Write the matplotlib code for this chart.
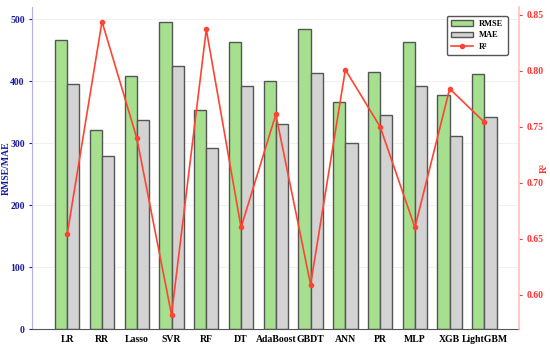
import numpy as np
import matplotlib
matplotlib.use('Agg')
from matplotlib import pyplot as plt

models = ['LR', 'RR', 'Lasso', 'SVR', 'RF', 'DT', 'AdaBoost', 'GBDT', 'ANN', 'PR', 'MLP', 'XGB', 'LightGBM']
rmse = [467, 321, 408, 495, 354, 464, 401, 484, 366, 415, 464, 378, 412]
mae = [395, 280, 338, 424, 292, 393, 332, 413, 301, 345, 393, 312, 342]
r2 = [0.654, 0.844, 0.740, 0.582, 0.837, 0.660, 0.761, 0.609, 0.801, 0.750, 0.660, 0.784, 0.754]

plt.rcParams['font.family'] = ['Liberation Serif', 'DejaVu Serif']
plt.rcParams['font.weight'] = 'bold'

fig, ax = plt.subplots(figsize=(5.5, 3.46), dpi=100)
fig.subplots_adjust(left=0.059, right=0.944, top=0.98, bottom=0.048)

x = np.arange(len(models))
w = 0.35
b1 = ax.bar(x - w/2, rmse, w, color='#a6e08f', edgecolor='#555555', linewidth=1.0, label='RMSE')
b2 = ax.bar(x + w/2, mae, w, color='#d3d3d3', edgecolor='#555555', linewidth=1.0, label='MAE')
ax.set_xlim(-1, 13)
ax.set_ylim(0, 520)
ax.set_xticks(x)
ax.set_xticklabels(models, fontsize=7, fontweight='bold')
ax.set_yticks([0, 100, 200, 300, 400, 500])
ax.tick_params(axis='y', colors='#1a1a9c', labelsize=7, length=2)
ax.tick_params(axis='x', length=0, pad=4, labelsize=7)
ax.set_ylabel('RMSE/MAE', color='#1a1a9c', fontsize=7, fontweight='bold')
ax.yaxis.set_label_coords(-0.045, 0.5)
ax.grid(axis='y', color='#eeeeee', linewidth=0.6)
ax.set_axisbelow(True)
ax.spines['top'].set_visible(False)
ax.spines['right'].set_visible(False)
ax.spines['left'].set_color('#b0b0ee')
ax.spines['bottom'].set_color('#555555')

ax2 = ax.twinx()
l1, = ax2.plot(x, r2, color='#ff4433', marker='o', markersize=3, linewidth=1.2, label='R²')
ax2.tick_params(axis='y', colors='#ff3333', labelsize=7, length=2)
ax2.set_ylabel('R²', color='#ff3333', fontsize=7, fontweight='bold')
ax2.yaxis.set_label_coords(1.043, 0.5)
ax2.spines['top'].set_visible(False)
ax2.spines['left'].set_visible(False)
ax2.spines['bottom'].set_visible(False)
ax2.spines['right'].set_color('#ffc0c0')
ax2.spines['right'].set_linewidth(1.2)
ax2.set_yticks([0.60, 0.65, 0.70, 0.75, 0.80, 0.85])

leg = ax2.legend([b1, b2, l1], ['RMSE', 'MAE', 'R²'], loc='upper right', fontsize=6,
                 frameon=True, fancybox=True, edgecolor='#555555', framealpha=1,
                 borderpad=0.5, handlelength=2.6, labelspacing=0.4,
                 bbox_to_anchor=(0.985, 0.985))
leg.get_frame().set_linewidth(1.0)

fig.savefig('out.png', dpi=100)
